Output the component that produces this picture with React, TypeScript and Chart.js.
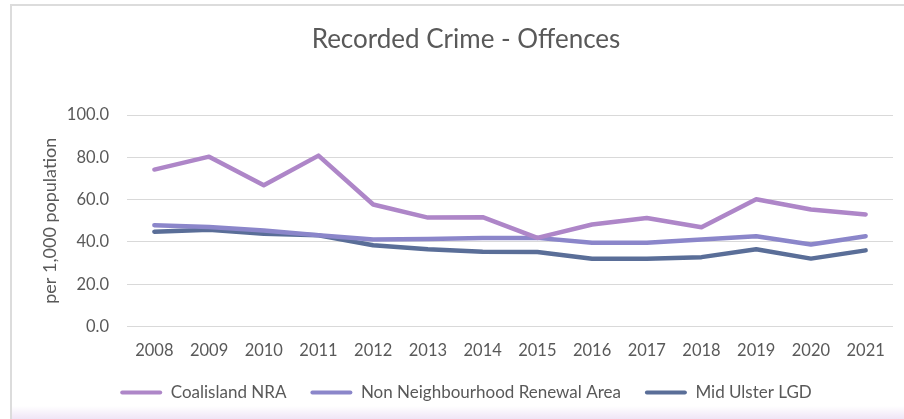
import React, { useEffect, useRef } from "react";
import { Chart, registerables } from "chart.js";

Chart.register(...registerables);

const years = ["2008", "2009", "2010", "2011", "2012", "2013", "2014", "2015", "2016", "2017", "2018", "2019", "2020", "2021"];
const coalisland = [74.2, 80.3, 66.8, 80.8, 57.7, 51.5, 51.7, 41.9, 48.2, 51.3, 46.9, 60.2, 55.3, 53.0];
const nonNRA = [47.9, 47.0, 45.4, 43.1, 41.1, 41.4, 41.9, 41.9, 39.6, 39.6, 41.1, 42.7, 38.8, 42.7];
const midUlster = [44.8, 45.8, 43.8, 43.1, 38.4, 36.5, 35.3, 35.2, 32.0, 32.0, 32.8, 36.5, 32.1, 36.0];
const seriesNames = ["Coalisland NRA", "Non Neighbourhood Renewal Area", "Mid Ulster LGD"];
const seriesColors = ["#AE86C8", "#8B86CA", "#5A6E98"];
const chartTitle = "Recorded Crime - Offences";
const yTitle = "per 1,000 population";

const FONT = "Lato, 'Open Sans', sans-serif";
const TEXT = "#595959";

export default function App() {
  const ref = useRef<HTMLCanvasElement | null>(null);
  useEffect(() => {
    if (!ref.current) return;
    const values = [coalisland, nonNRA, midUlster];
    const defaultLabels = (Chart.defaults.plugins.legend.labels as any).generateLabels;
    const chart = new Chart(ref.current, {
      type: "line",
      data: {
        labels: years,
        datasets: values.map((v, i) => ({
          label: seriesNames[i],
          data: v,
          borderColor: seriesColors[i],
          backgroundColor: seriesColors[i],
          borderWidth: 4.5,
          pointRadius: 0,
          pointHoverRadius: 0,
          tension: 0,
          borderCapStyle: "round" as const,
          borderJoinStyle: "round" as const,
        })),
      },
      options: {
        responsive: false,
        animation: false,
        devicePixelRatio: 1,
        layout: { padding: { left: 29, right: 27, top: 0, bottom: 0 } },
        plugins: {
          tooltip: { enabled: false },
          title: {
            display: true,
            text: chartTitle,
            color: TEXT,
            font: { family: FONT, size: 26, weight: "normal" },
            padding: { top: 20.4, bottom: 59.4 },
          },
          legend: {
            position: "bottom",
            labels: {
              color: TEXT,
              font: { family: FONT, size: 17 },
              boxWidth: 42,
              boxHeight: 4,
              padding: 24,
              useBorderRadius: true,
              borderRadius: 2,
              generateLabels: (c: any) =>
                defaultLabels(c).map((l: any) => ({ ...l, lineWidth: 0, fillStyle: seriesColors[l.datasetIndex] })),
            },
          },
        },
        scales: {
          x: {
            offset: true,
            grid: { display: false, drawTicks: false },
            border: { display: false },
            ticks: { color: TEXT, font: { family: FONT, size: 16.5 }, padding: 14.3, maxRotation: 0 },
            afterFit: (s: any) => { s.height = 33.5; },
          },
          y: {
            min: 0,
            max: 100,
            grid: { color: "#D9D9D9", lineWidth: 1, drawTicks: false },
            border: { display: false },
            ticks: {
              stepSize: 20,
              color: TEXT,
              font: { family: FONT, size: 16.5 },
              padding: 18,
              callback: (v: any) => Number(v).toFixed(1),
            },
            title: {
              display: true,
              text: yTitle,
              color: TEXT,
              font: { family: FONT, size: 18 },
              padding: { top: 0.2, bottom: 0 },
            },
            afterFit: (s: any) => { s.width = 88; },
          },
        },
      },
    });
    return () => chart.destroy();
  }, []);

  return (
    <div style={{ position: "absolute", left: 0, top: 0, width: 904, height: 419, overflow: "hidden", background: "#fff" }}>
      <div style={{ position: "absolute", left: 10, top: 4, width: 1000, height: 500, borderTop: "2px solid #DCDCDC", borderLeft: "2px solid #DCDCDC" }} />
      <div style={{ position: "absolute", left: 12, top: 406, width: 892, height: 13, background: "linear-gradient(#FFFFFF, #EFE5F6)" }} />
      <canvas ref={ref} width={910} height={407} style={{ position: "absolute", left: 10, top: 4, display: "block" }} />
    </div>
  );
}
